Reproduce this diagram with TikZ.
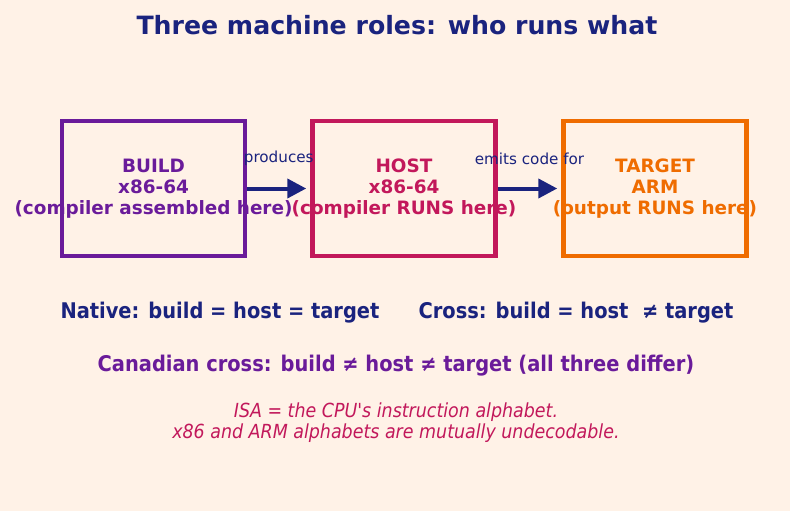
\documentclass[tikz,border=0pt]{standalone}
\usepackage{fontspec}
\setmainfont{DejaVu Sans}
\newfontfamily\condfont{DejaVu Sans Condensed}
\usepackage{xcolor}
\usepackage{tikz}
\usetikzlibrary{
  positioning,
  arrows.meta,
  backgrounds
}
\definecolor{PageBg}{HTML}{FFF2E7}
\definecolor{Navy}{HTML}{1A237E}
\definecolor{Grape}{HTML}{6A1B9A}
\definecolor{Crimson}{HTML}{C2185B}
\definecolor{Tangerine}{HTML}{EF6C00}

\begin{document}
\begin{tikzpicture}[
  x=1pt, y=-1pt,
  >=Stealth,
  role/.style={
    draw=#1,
    line width=4.5pt,
    minimum width=183pt,
    minimum height=135pt,
    inner sep=0pt
  },
  roletxt/.style={
    text=#1,
    font=\fontsize{18.4}{21}\selectfont\bfseries,
    align=center,
    inner sep=0pt
  },
  arr/.style={line width=4pt, Navy, shorten >=4pt,
    arrows={-Stealth[length=19pt 0 0, width=19pt 0 0, inset=0pt]}},
  lbl/.style={text=Navy, font=\fontsize{15.2}{17}\selectfont, inner sep=0pt},
  rule/.style={font=\condfont\fontsize{21.6}{24}\selectfont\bfseries, inner sep=0pt},
  note/.style={text=Crimson, font=\condfont\fontsize{19.4}{21}\selectfont\itshape,
    align=center, inner sep=0pt},
]
  % ========== 背景与边界 ==========
  \fill[PageBg] (0,0) rectangle (790,511);
  \useasboundingbox (0,0) rectangle (790,511);

  \node[text=Navy, font=\fontsize{25.2}{28}\selectfont\bfseries] (title) at (397,25)
    {Three machine roles: who runs what};

  % ========== 三个机器框 ==========
  \node[role=Grape] (build) at (153.5,188.5) {};
  \node[role=Crimson] (host) at (404,188.5) {};
  \node[role=Tangerine] (target) at (655,188.5) {};

  \node[roletxt=Grape] (buildtxt) at (build)
    {BUILD\\x86-64\\(compiler assembled here)};
  \node[roletxt=Crimson] (hosttxt) at (host)
    {HOST\\x86-64\\(compiler RUNS here)};
  \node[roletxt=Tangerine] (targettxt) at (target)
    {TARGET\\ARM\\(output RUNS here)};

  % ========== 箭头 ==========
  \draw[arr] (build.east) -- (host.west)
    node[lbl, midway, yshift=30pt] (produces) {produces};
  \draw[arr] (host.east) -- (target.west)
    node[lbl, midway, yshift=30pt] (emits) {emits code for};

  % ========== 说明文字 ==========
  \node[rule, text=Navy] (native) at (220,313)
    {Native: build = host = target};
  \node[rule, text=Navy] (cross) at (576,313)
    {Cross: build = host\ \ ≠ target};
  \node[rule, text=Grape] (canadian) at (396,366)
    {Canadian cross: build ≠ host ≠ target (all three differ)};
  \node[note] (isa) at (396,423)
    {ISA = the CPU's instruction alphabet.\\x86 and ARM alphabets are mutually undecodable.};

\end{tikzpicture}
\end{document}
